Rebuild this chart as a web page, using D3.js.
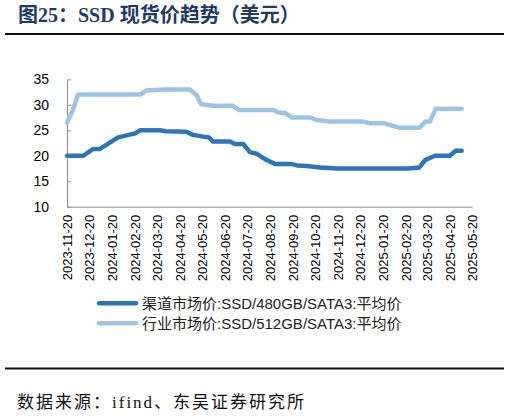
<!DOCTYPE html>
<html lang="zh">
<head>
    <meta charset="UTF-8">
    <title>SSD 现货价趋势</title>
    <style>
        body{ margin:0; background:#fff; }
        svg{ display:block; }
        .axis path, .axis line{ stroke:#8c8c8c; }
        .axis text{ font-family:"Liberation Sans", Arial, sans-serif; fill:#000; }
    </style>
</head>
<body>

<script src="https://d3js.org/d3.v7.min.js"></script>
<script>

// 渠道市场价 SSD/480GB/SATA3
var channelDates = ["2023-11-20","2023-12-12","2023-12-25","2024-01-03","2024-01-28","2024-02-20",
    "2024-02-27","2024-03-24","2024-04-02","2024-04-29","2024-05-08","2024-05-24","2024-05-30",
    "2024-06-04","2024-06-27","2024-07-04","2024-07-15","2024-07-24","2024-08-02","2024-08-15",
    "2024-08-27","2024-09-17","2024-09-26","2024-10-09","2024-10-27","2024-11-19","2025-02-22",
    "2025-03-10","2025-03-18","2025-03-31","2025-04-20","2025-04-28","2025-05-06"];
var channelValues = [20.0,20.0,21.3,21.3,23.6,24.4,
    25.0,25.0,24.8,24.7,24.1,23.7,23.6,
    22.8,22.8,22.3,22.3,20.7,20.4,19.2,
    18.4,18.4,18.1,18.0,17.7,17.5,17.5,
    17.7,19.2,20.0,20.0,21.0,21.0];

// 行业市场价 SSD/512GB/SATA3
var industryDates = ["2023-11-20","2023-11-28","2023-12-05","2024-02-27","2024-03-06","2024-03-31",
    "2024-05-04","2024-05-13","2024-05-19","2024-06-04","2024-07-01","2024-07-09","2024-08-25",
    "2024-08-31","2024-09-09","2024-09-19","2024-10-14","2024-10-22","2024-11-07","2024-12-25",
    "2025-01-01","2025-01-21","2025-02-10","2025-03-10","2025-03-18","2025-03-24","2025-04-01",
    "2025-05-06"];
var industryValues = [26.5,29.0,32.0,32.0,32.8,33.0,
    33.0,31.9,30.1,29.8,29.8,29.0,29.0,
    28.5,28.4,27.5,27.5,27.0,26.7,26.7,
    26.4,26.4,25.5,25.5,26.7,26.7,29.2,
    29.2];

var seriesNames = ["渠道市场价:SSD/480GB/SATA3:平均价", "行业市场价:SSD/512GB/SATA3:平均价"];
var yTicks = [10, 15, 20, 25, 30, 35];
var xTickLabels = ["2023-11-20","2023-12-20","2024-01-20","2024-02-20","2024-03-20","2024-04-20",
    "2024-05-20","2024-06-20","2024-07-20","2024-08-20","2024-09-20","2024-10-20","2024-11-20",
    "2024-12-20","2025-01-20","2025-02-20","2025-03-20","2025-04-20","2025-05-20"];

var parse = d3.timeParse("%Y-%m-%d");
var colors = ["#2e75b6", "#9dc3e6"];

var svg = d3.select("body").append("svg")
        .attr("width", 510)
        .attr("height", 416);

// title
svg.append("text")
    .attr("x", 18).attr("y", 22)
    .style("font-family", "'Liberation Serif', 'Noto Sans CJK SC', serif")
    .style("font-weight", "bold")
    .style("font-size", "20px")
    .attr("fill", "#1f3a64")
    .text("图25：SSD 现货价趋势（美元）");

svg.append("line").attr("x1", 5).attr("x2", 504).attr("y1", 34).attr("y2", 34)
    .attr("stroke", "#111").attr("stroke-width", 2);

var x = d3.scaleTime()
        .domain([parse(xTickLabels[0]), parse(xTickLabels[xTickLabels.length - 1])])
        .range([67, 472]);
var y = d3.scaleLinear().domain([10, 35]).range([206.7, 79.3]);

// y axis, ticks pointing inward
var yAxis = svg.append("g").attr("class", "axis")
    .attr("transform", "translate(67,0)")
    .call(d3.axisLeft(y).tickValues(yTicks).tickSizeInner(-4).tickSizeOuter(0).tickPadding(18));
yAxis.selectAll("text").style("font-size", "14px");

// x axis
var xAxis = svg.append("g").attr("class", "axis")
    .attr("transform", "translate(0,206.7)")
    .call(d3.axisBottom(x).tickValues(xTickLabels.map(parse))
        .tickFormat(d3.timeFormat("%Y-%m-%d")).tickSize(0).tickSizeOuter(0));
xAxis.selectAll("text")
    .style("font-size", "13px")
    .attr("text-anchor", "end")
    .attr("transform", "rotate(-90)")
    .attr("x", -8).attr("y", 0).attr("dy", "0.35em");

var line = d3.line()
        .x(function(d){ return x(d[0]); })
        .y(function(d){ return y(d[1]); });

var industry = industryDates.map(function(d, i){ return [parse(d), industryValues[i]]; });
var channel = channelDates.map(function(d, i){ return [parse(d), channelValues[i]]; });

svg.append("path").datum(industry)
    .attr("d", line).attr("fill", "none")
    .attr("stroke", colors[1]).attr("stroke-width", 4.5)
    .attr("stroke-linejoin", "round").attr("stroke-linecap", "round");

svg.append("path").datum(channel)
    .attr("d", line).attr("fill", "none")
    .attr("stroke", colors[0]).attr("stroke-width", 4.5)
    .attr("stroke-linejoin", "round").attr("stroke-linecap", "round");

// legend
var legend = svg.selectAll(".legend")
        .data(seriesNames)
        .enter().append("g")
        .attr("class", "legend")
        .attr("transform", function(d, i){ return "translate(99," + (303.3 + i * 20) + ")"; });

legend.append("line")
    .attr("x1", 0).attr("x2", 37)
    .attr("stroke", function(d, i){ return colors[i]; })
    .attr("stroke-width", 4.5).attr("stroke-linecap", "round");

legend.append("text")
    .attr("x", 43).attr("dy", "0.36em")
    .style("font-family", "'Liberation Sans', 'Noto Sans CJK SC', sans-serif")
    .style("font-size", "15px")
    .attr("fill", "#222")
    .text(function(d){ return d; });

// source
svg.append("line").attr("x1", 5).attr("x2", 504).attr("y1", 368.5).attr("y2", 368.5)
    .attr("stroke", "#111").attr("stroke-width", 2);

svg.append("text")
    .attr("x", 17).attr("y", 408)
    .style("font-family", "'Liberation Serif', 'Noto Sans CJK SC', serif")
    .style("font-size", "17px")
    .style("letter-spacing", "2px")
    .attr("fill", "#111")
    .text("数据来源：ifind、东吴证券研究所");

</script>

</body>
</html>
